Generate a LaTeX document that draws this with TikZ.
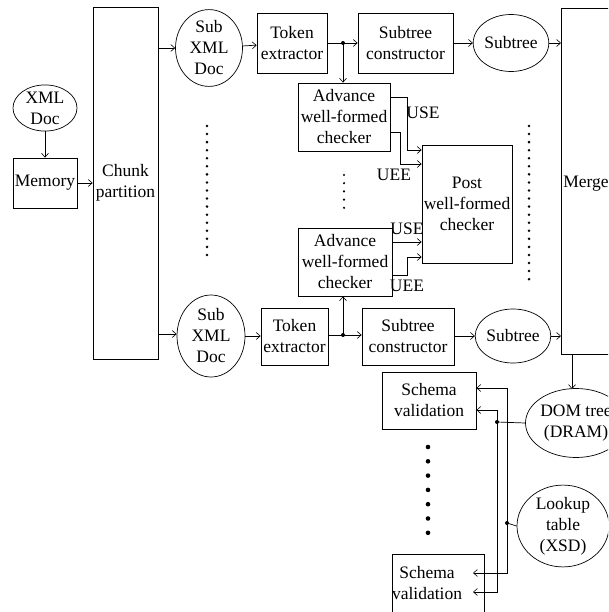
\documentclass[tikz,border=0pt]{standalone}
\usepackage{fontspec}
\setmainfont{Liberation Serif}
\usetikzlibrary{shapes.geometric,arrows.meta}
\begin{document}
\begin{tikzpicture}[x=1pt,y=-1pt,
  font=\fontsize{17.5}{21}\selectfont,
  line width=0.7pt,
  box/.style={draw, rectangle, inner sep=0pt, align=center},
  oval/.style={draw, ellipse, inner sep=0pt, align=center},
  lbl/.style={inner sep=0pt},
  arr/.style={-{Straight Barb[length=4pt,width=7pt,line width=0.6pt]}},
  dot/.style={circle, fill, inner sep=0pt, minimum size=4pt}]
\useasboundingbox (0,0) rectangle (608,612);
\clip (0,0) rectangle (608,612);

% input side
\node[oval, minimum width=64, minimum height=40] (xml) at (45,108) {XML\\Doc};
\node[box, minimum width=64, minimum height=50] (mem) at (45,183) {Memory};
\node[box, minimum width=65, minimum height=352] (chunk) at (125.5,183) {Chunk\\partition};

% upper pipeline
\node[oval, minimum width=67, minimum height=70] (sub1) at (209,48) {Sub\\XML\\Doc};
\node[box, minimum width=70, minimum height=60] (tok1) at (292,43) {Token\\extractor};
\node[box, minimum width=95, minimum height=60] (sc1) at (405.5,43) {Subtree\\constructor};
\node[oval, minimum width=68, minimum height=57] (st1) at (511,43) {Subtree};
\node[box, minimum width=92, minimum height=68] (adv1) at (344,117) {Advance\\well-formed\\checker};

% lower pipeline
\node[oval, minimum width=68, minimum height=82] (sub2) at (211,336) {Sub\\XML\\Doc};
\node[box, minimum width=67, minimum height=57] (tok2) at (294.5,336.5) {Token\\extractor};
\node[box, minimum width=92, minimum height=57] (sc2) at (408,336.5) {Subtree\\constructor};
\node[oval, minimum width=69, minimum height=54] (st2) at (513,336) {Subtree};
\node[box, minimum width=94, minimum height=68] (adv2) at (345,262) {Advance\\well-formed\\checker};

% checker and merge
\node[box, minimum width=90, minimum height=118] (post) at (467,204) {Post\\well-formed\\checker};
\node[box, anchor=north west, minimum width=140, minimum height=346] (merge) at (561,8) {};
\node[lbl, anchor=west] (mergetxt) at (563,184) {Merge};

% validation side
\node[oval, minimum width=82, minimum height=69] (dom) at (576,423) {DOM tree\\(DRAM)};
\node[oval, minimum width=92, minimum height=68] (lookup) at (563,526) {Lookup\\table\\(XSD)};
\node[box, minimum width=94, minimum height=57] (sv1) at (429,400.5) {Schema\\validation};
\node[draw, rectangle, anchor=north west, minimum width=92, minimum height=62, inner sep=0pt] (sv2box) at (392,554) {};
\node[lbl, align=center] (sv2) at (427,583) {Schema\\validation};

% junctions
\coordinate (j1) at (343,43);
\coordinate (j2) at (343,335);
\node[dot] at (j1) {};
\node[dot] at (j2) {};
\coordinate (d1) at (497,422);
\coordinate (d2) at (507,523);
\node[dot] at (d1) {};
\node[dot] at (d2) {};

% connectors: input
\draw[arr] (xml) -- (mem);
\draw[arr] (mem.east) -- (mem.east -| chunk.west);
\draw[arr] (chunk.east |- sub1) -- (sub1);
\draw[arr] (chunk.east |- 0,334) -- (sub2.west |- 0,334);

% connectors: upper pipeline
\draw[arr] (sub1) -- (tok1);
\draw (tok1) -- (j1);
\draw[arr] (j1) -- (sc1);
\draw[arr] (j1) -- (j1 |- adv1.north);
\draw[arr] (sc1) -- (st1);
\draw[arr] (st1) -- (st1 -| merge.west);
\draw[arr] (adv1.east |- 0,97) -- (407,97) -- (407,150) -- (post.west |- 0,150);
\draw[arr] (adv1.east |- 0,132) -- (400,132) -- (400,164) -- (post.west |- 0,164);
\node[lbl] (use1) at (423,113) {USE};
\node[lbl] (uee1) at (394,175) {UEE};

% connectors: lower pipeline
\draw[arr] (sub2) -- (tok2.west |- sub2);
\draw (tok2.east |- j2) -- (j2);
\draw[arr] (j2) -- (sc2.west |- j2);
\draw[arr] (j2) -- (j2 |- adv2.south);
\draw[arr] (sc2.east |- st2) -- (st2);
\draw[arr] (st2) -- (st2 -| merge.west);
\draw[arr] (adv2.east |- 0,242) -- (post.west |- 0,242);
\draw[arr] (adv2.east |- 0,275) -- (407,275) -- (407,257) -- (post.west |- 0,257);
\node[lbl] (use2) at (407,229) {USE};
\node[lbl] (uee2) at (407,286) {UEE};

% connectors: validation
\draw[arr] (merge.south -| 572,0) -- (572,389);
\draw (dom.west) -- (d1);
\draw (lookup.west) -- (d2);
\draw[arr] (d1) -- (497,410) -- (sv1.east |- 0,410);
\draw[arr] (d1) -- (497,592) -- (473,592);
\draw[arr] (d2) -- (507,388) -- (sv1.east |- 0,388);
\draw[arr] (d2) -- (507,573) -- (473,573);

% ellipsis dots
\foreach \i in {0,...,16} \fill (207,126+8.06*\i) circle (1.4);
\foreach \i in {0,...,19} \fill (529,126+8.06*\i) circle (1.4);
\foreach \i in {0,...,4} \fill (344,175+8.2*\i) circle (1.2);
\foreach \i in {0,...,6} \fill (428,447+14.3*\i) circle (2.3);
\end{tikzpicture}
\end{document}
